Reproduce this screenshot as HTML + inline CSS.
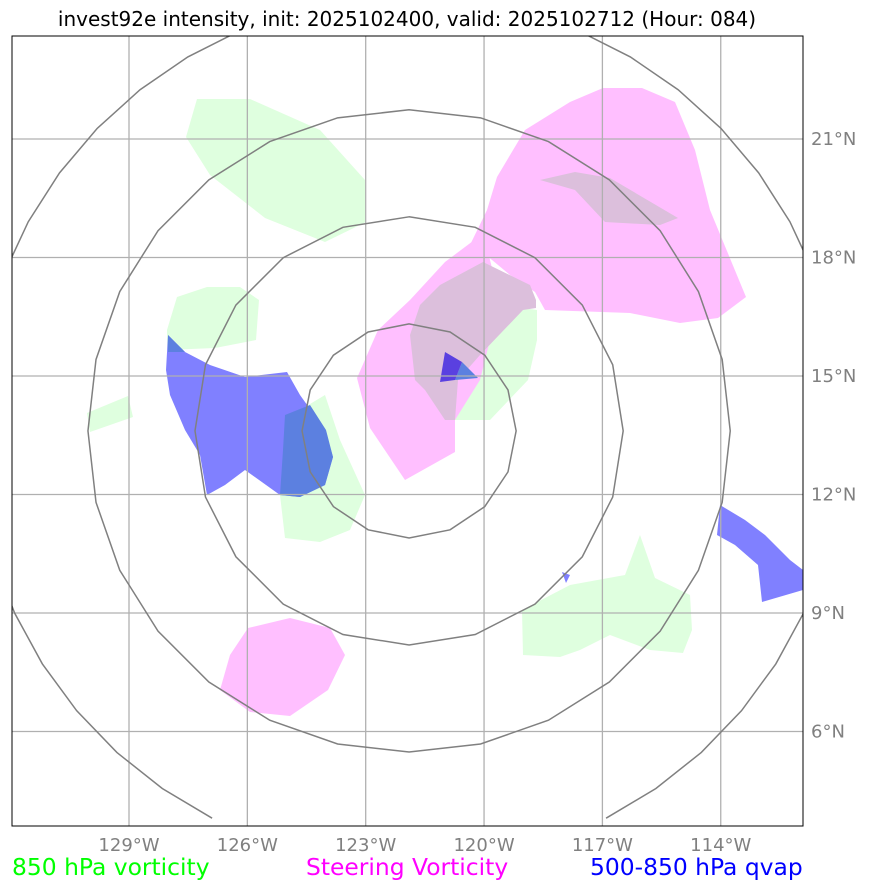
<!DOCTYPE html>
<html><head><meta charset="utf-8"><style>
body{margin:0;background:#fff;}
svg{display:block;font-family:"DejaVu Sans","Liberation Sans",sans-serif;}
</style></head><body>
<svg id="c" width="873" height="891">
<text x="407" y="26" text-anchor="middle" font-size="20" fill="#000">invest92e intensity, init: 2025102400, valid: 2025102712 (Hour: 084)</text>
<g id="fills"></g><g id="grid"></g><g id="rings"></g>
<rect x="12" y="36" width="791" height="790" fill="none" stroke="#000" stroke-width="1"/>
<text x="12" y="875" font-size="23.4" fill="#00ff00">850 hPa vorticity</text>
<text x="306" y="875" font-size="23.4" fill="#ff00ff">Steering Vorticity</text>
<text x="590" y="875" font-size="23.4" fill="#0000ff">500-850 hPa qvap</text>
</svg>
<script>
const lonTicks=[-129,-126,-123,-120,-117,-114];
const lonLabels=["129°W","126°W","123°W","120°W","117°W","114°W"];
const latTicks=[21,18,15,12,9,6];
const latLabels=["21°N","18°N","15°N","12°N","9°N","6°N"];
const ringRadiiDeg=[2.71,5.42,8.13,11.0];
const ringCenter=[-121.9,13.61];
const X=lon=>129+(lon+129)*39.45;
const Y=lat=>139+(21-lat)*39.5;
const PX=px=>-129+(px-129)/39.45, PY=py=>21-(py-139)/39.5;
function pts(a){return a.map(p=>[PX(p[0]),PY(p[1])]);}
const green=[pts([[197,99],[250,99],[320,130],[365,180],[366,222],[325,242],[265,218],[210,175],[186,137]]),
pts([[177,297],[207,287],[240,287],[259,300],[256,340],[215,348],[167,350],[167,330]]),
pts([[87,413],[128,396],[133,417],[90,432]]),
pts([[300,410],[325,395],[340,440],[365,495],[350,530],[320,542],[285,538],[280,495],[290,440]]),
pts([[450,300],[523,308],[537,310],[537,340],[528,380],[490,420],[455,420],[450,380]]),
pts([[522,610],[570,585],[625,575],[640,535],[655,578],[690,595],[692,630],[683,653],[650,650],[610,635],[580,650],[560,657],[523,655]])];
const pink=[pts([[603,88],[642,88],[675,102],[695,150],[710,210],[746,297],[718,318],[680,323],[630,313],[545,310],[535,292],[510,275],[480,250],[470,245],[487,210],[497,177],[525,130],[570,102]]),
pts([[485,232],[445,262],[410,300],[378,330],[357,378],[370,428],[405,480],[455,452],[455,420],[480,380],[500,300],[490,260]]),
pts([[248,628],[290,618],[330,628],[345,655],[328,690],[290,716],[250,712],[220,690],[230,655]])];
const overlap=[pts([[483,262],[530,285],[536,300],[536,308],[523,310],[480,355],[458,380],[455,420],[445,420],[425,390],[415,380],[410,335],[420,305],[440,285]]),
pts([[540,180],[575,172],[610,178],[678,218],[660,225],[605,222],[575,190]])];
const blue=[pts([[168,335],[185,352],[210,365],[245,377],[287,372],[300,395],[325,430],[333,457],[325,485],[300,497],[280,495],[245,470],[225,485],[207,495],[200,455],[185,430],[170,395],[166,370]]),
pts([[720,505],[745,520],[765,535],[790,560],[803,570],[803,590],[762,602],[758,565],[735,545],[717,535]]),
pts([[562,572],[570,575],[566,583]])];
const blueGreen=[pts([[285,415],[310,405],[326,430],[333,457],[325,485],[300,497],[280,495],[283,450]]),pts([[168,335],[185,352],[168,352]]),pts([[462,362],[478,378],[455,380]])];
const blueDark=[pts([[445,352],[462,362],[455,380],[440,382]])];
const NS="http://www.w3.org/2000/svg";
function poly(g,arr,fill,name){arr.forEach(a=>{const p=document.createElementNS(NS,'polygon');
p.setAttribute('points',a.map(q=>X(q[0])+','+Y(q[1])).join(' '));p.setAttribute('fill',fill);


g.appendChild(p);});}
const f=document.getElementById('fills');
poly(f,green,'#dfffdf','vorticity-850-region');
poly(f,pink,'#ffbfff','steering-vorticity-region');
poly(f,overlap,'#dcbfdc','vorticity-overlap-region');
poly(f,blue,'#8080ff','qvap-region');
poly(f,blueGreen,'#5c80e0','qvap-vorticity-overlap');
poly(f,blueDark,'#5a40e0','qvap-steering-overlap');
const g=document.getElementById('grid');
function line(x1,y1,x2,y2,c,name,par){const l=document.createElementNS(NS,'line');l.setAttribute('x1',x1);l.setAttribute('y1',y1);l.setAttribute('x2',x2);l.setAttribute('y2',y2);l.setAttribute('stroke',c);l.setAttribute('stroke-width',1.3);


par.appendChild(l);}
function txt(x,y,s,anchor,name){const t=document.createElementNS(NS,'text');t.setAttribute('x',x);t.setAttribute('y',y);t.setAttribute('text-anchor',anchor);t.setAttribute('font-size','18');t.setAttribute('fill','#808080');t.textContent=s;


g.appendChild(t);}
lonTicks.forEach((v,i)=>{line(X(v),36,X(v),826,'#b0b0b0','lon-gridline',g);txt(X(v),851,lonLabels[i],'middle','lon-tick-label');});
latTicks.forEach((v,i)=>{line(12,Y(v),803,Y(v),'#b0b0b0','lat-gridline',g);txt(811,Y(v)+6,latLabels[i],'start','lat-tick-label');});
const r=document.getElementById('rings');
const cx=X(ringCenter[0]),cy=Y(ringCenter[1]);
ringRadiiDeg.forEach((d,i)=>{const R=d*39.5;const n=i==0?16:(i==1?20:28);let s=[];
if(i<3){for(let k=0;k<n;k++){const a=Math.PI/2+k*2*Math.PI/n;s.push([cx+R*Math.cos(a),cy-R*Math.sin(a)]);}}
else{const gap=Math.asin(197/R);const a0=-Math.PI/2+gap,a1=3*Math.PI/2-gap;const m=40;
for(let k=0;k<=m;k++){const a=a0+(a1-a0)*k/m;s.push([cx+R*Math.cos(a),cy-R*Math.sin(a)]);}}
const p=document.createElementNS(NS,i==3?'polyline':'polygon');
p.setAttribute('points',s.map(q=>q.join(',')).join(' '));p.setAttribute('fill','none');p.setAttribute('stroke','#808080');p.setAttribute('stroke-width','1.5');


r.appendChild(p);});
const cp=document.createElementNS(NS,'clipPath');cp.id='clip';const cr=document.createElementNS(NS,'rect');cr.setAttribute('x',12);cr.setAttribute('y',36);cr.setAttribute('width',791);cr.setAttribute('height',790);cp.appendChild(cr);document.getElementById('c').appendChild(cp);
r.setAttribute('clip-path','url(#clip)');f.setAttribute('clip-path','url(#clip)');
</script>
</body></html>
